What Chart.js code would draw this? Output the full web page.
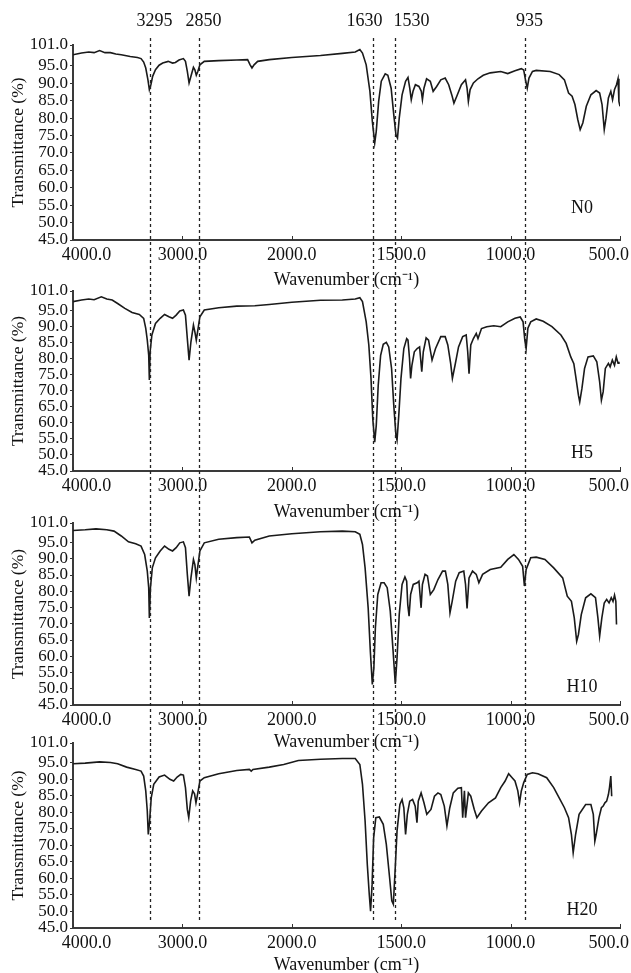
<!DOCTYPE html>
<html>
<head>
<meta charset="utf-8">
<script src="https://cdn.jsdelivr.net/npm/chart.js@4.4.1/dist/chart.umd.min.js"></script>
<style>
  html, body { margin: 0; padding: 0; background: #fff; overflow: hidden; }
  body { width: 631px; height: 973px; position: relative; }
  canvas { position: absolute; left: 0; }
</style>
</head>
<body>
<script>
// FTIR spectra (wavenumber in cm-1, transmittance in %)
const n0Wave = [4000,3922,3856,3807,3757,3708,3658,3609,3559,3477,3411,3378,3354,3335,3315,3302,3288,3272,3246,3213,3180,3130,3090,3064,3031,2991,2972,2955,2939,2922,2899,2886,2873,2859,2840,2800,2668,2503,2404,2381,2364,2345,2312,2206,2000,1869,1769,1710,1689,1677,1660,1643,1632,1621,1614,1603,1591,1573,1561,1546,1534,1524,1517,1509,1496,1480,1469,1461,1454,1446,1435,1419,1408,1403,1396,1384,1367,1354,1338,1319,1299,1283,1267,1259,1246,1225,1206,1199,1193,1185,1170,1149,1125,1093,1045,1013,980,951,940,932,924,916,900,883,819,778,754,735,719,706,693,682,670,654,633,609,593,582,572,564,553,542,534,525,516,509,505,500];
const n0T = [98.2,98.7,99.0,98.8,99.4,98.8,98.8,98.4,98.2,97.7,97.4,97.1,96.1,94.4,91.0,88.2,89.6,92.0,93.9,95.2,95.8,96.3,95.8,96.0,96.7,97.1,96.3,93.4,90.1,92.0,94.6,93.9,92.3,93.4,95.3,96.3,96.5,96.7,96.8,95.3,94.4,95.3,96.3,96.8,97.4,98.0,98.6,99.0,99.7,98.7,95.3,87.7,79.1,72.9,76.2,84.8,90.6,92.7,92.3,88.6,81.0,75.2,74.3,80.0,86.7,90.6,91.7,88.6,85.3,87.7,89.6,89.1,87.7,85.3,88.6,91.3,90.6,87.7,89.1,91.0,91.5,89.6,86.3,84.3,86.3,89.6,91.0,88.6,84.8,88.2,90.1,91.3,92.3,93.0,93.4,92.8,93.6,94.2,93.8,91.0,88.6,91.5,93.4,93.7,93.4,92.5,91.0,87.2,86.3,83.9,79.6,76.7,78.6,83.4,86.7,87.9,87.2,83.9,76.7,80.0,85.8,87.7,85.3,88.2,89.6,91.3,84.8,83.4];

const h5Wave = [4000,3922,3856,3807,3741,3691,3642,3592,3526,3460,3394,3354,3335,3321,3308,3302,3295,3279,3246,3203,3163,3123,3090,3057,3024,2991,2972,2955,2939,2922,2899,2886,2873,2859,2840,2800,2668,2503,2338,2206,2000,1869,1769,1710,1689,1677,1660,1648,1638,1630,1621,1614,1605,1594,1582,1568,1557,1544,1534,1524,1519,1511,1501,1488,1475,1469,1462,1457,1451,1440,1427,1416,1406,1399,1386,1375,1359,1343,1319,1299,1287,1274,1266,1254,1238,1219,1203,1196,1190,1182,1170,1157,1149,1133,1109,1077,1045,1013,980,956,943,935,929,921,908,883,851,811,770,746,725,711,701,690,684,674,662,646,622,606,593,585,577,567,553,545,535,525,517,509,505];
const h5T = [97.7,98.2,98.5,98.3,99.2,98.5,98.2,97.1,95.6,94.3,93.7,92.5,89.4,85.7,81.0,73.3,82.1,87.3,90.9,92.5,93.7,93.0,92.5,93.5,94.8,95.1,93.5,86.2,79.5,85.2,90.4,88.3,85.7,88.8,93.0,95.1,95.8,96.3,96.4,96.8,97.5,98.1,98.2,98.5,98.9,97.7,91.4,84.2,73.8,61.3,54.0,59.2,71.7,81.0,84.4,85.0,83.6,76.9,65.5,56.1,54.6,62.4,73.8,83.1,86.2,85.7,80.0,73.8,77.9,82.1,83.1,83.6,75.9,82.1,86.4,85.7,79.5,83.1,86.8,86.8,84.2,78.5,73.8,77.9,83.6,86.8,87.3,82.1,75.3,84.2,86.2,87.8,86.2,89.3,89.9,90.2,89.9,91.4,92.5,92.9,91.4,85.7,83.1,89.4,91.4,92.3,91.6,89.9,87.3,84.7,80.5,78.4,73.8,68.6,66.5,70.7,76.9,80.5,80.8,79.0,72.7,67.0,69.6,76.9,78.5,77.4,79.5,77.9,80.5,78.5,79.0];

const h10Wave = [4000,3889,3790,3691,3625,3559,3493,3427,3378,3345,3321,3308,3302,3292,3275,3246,3203,3163,3123,3090,3057,3024,2991,2972,2955,2939,2922,2899,2886,2873,2859,2840,2800,2668,2503,2388,2364,2338,2206,2000,1869,1769,1710,1689,1677,1665,1651,1641,1632,1625,1618,1607,1592,1578,1564,1550,1537,1527,1519,1509,1496,1483,1475,1470,1464,1457,1445,1427,1419,1409,1403,1391,1380,1367,1351,1332,1311,1298,1287,1277,1267,1251,1235,1214,1206,1199,1190,1174,1157,1145,1128,1093,1045,1013,985,964,945,937,929,908,883,843,803,762,741,722,709,698,690,677,657,633,612,601,593,583,572,561,550,540,532,525,519,516];
const h10T = [98.7,98.9,99.2,98.9,98.5,97.0,95.2,94.6,93.9,91.3,86.2,81.1,71.8,81.1,87.2,90.3,92.4,93.9,92.9,92.4,93.4,94.9,95.2,93.4,85.2,78.5,84.1,89.8,88.2,84.1,87.7,92.4,94.9,96.0,96.5,96.7,94.9,95.7,97.0,97.7,98.3,98.5,98.3,97.5,94.4,87.2,74.9,61.5,51.3,56.4,68.7,79.0,82.6,82.6,81.1,73.9,61.5,51.5,59.5,72.8,82.1,84.4,83.1,75.9,72.3,79.0,82.1,82.6,83.1,74.9,82.1,85.2,84.7,79.0,80.5,83.6,86.2,86.2,82.1,73.4,76.9,83.1,85.7,86.2,82.1,74.7,84.1,86.2,85.2,82.6,85.2,86.7,87.4,89.8,91.3,89.8,87.7,81.6,86.7,90.3,90.5,89.8,87.2,84.1,78.5,76.9,71.8,64.6,66.7,72.8,78.0,79.2,78.0,71.8,66.2,71.8,76.4,77.5,76.4,78.0,76.9,78.8,76.9,69.8];

const h20Wave = [4000,3889,3757,3658,3592,3510,3427,3378,3354,3335,3321,3312,3302,3285,3262,3213,3163,3114,3080,3048,3015,2991,2972,2955,2942,2925,2906,2889,2876,2859,2840,2800,2668,2503,2388,2371,2355,2206,2074,1970,1869,1769,1710,1689,1677,1665,1655,1646,1640,1633,1626,1616,1600,1582,1568,1553,1543,1536,1528,1519,1506,1496,1488,1480,1472,1461,1448,1436,1428,1422,1409,1396,1383,1364,1348,1332,1319,1303,1291,1278,1262,1241,1225,1219,1211,1206,1193,1182,1166,1154,1133,1101,1069,1045,1025,1009,993,980,967,959,951,940,924,900,875,835,803,778,754,735,722,714,703,687,657,633,622,615,609,596,585,577,569,561,553,548,542,538];
const h20T = [94.7,94.9,95.3,95.1,94.7,93.7,93.0,92.5,91.0,86.5,80.4,73.3,76.4,84.4,88.5,90.7,91.3,90.0,89.5,90.7,91.5,91.3,87.5,80.9,78.4,83.4,86.5,85.6,82.9,85.9,89.5,90.5,91.7,92.7,93.0,92.5,93.0,93.7,94.5,95.7,96.1,96.3,96.3,94.5,88.5,77.4,64.3,55.2,50.1,58.2,72.3,78.4,78.6,76.4,70.3,60.2,53.2,52.2,62.2,74.4,82.4,83.9,81.4,73.3,79.4,83.4,83.9,81.9,76.9,83.4,85.9,82.9,79.4,80.9,84.9,85.9,85.4,81.9,75.9,81.4,85.9,87.3,87.5,78.4,86.5,78.4,85.9,84.9,80.9,78.4,80.4,82.9,84.4,87.5,89.5,91.7,90.5,89.5,86.5,82.9,86.5,89.0,91.5,92.0,91.7,90.5,87.5,84.4,81.4,78.4,73.3,67.8,73.3,79.4,82.4,82.4,79.4,71.3,73.3,78.4,81.4,81.9,82.9,83.4,85.4,87.5,91.0,84.9];

const xTickLabels = [4000, 3000, 2000, 1500, 1000, 500];
const yTicks = [45, 50, 55, 60, 65, 70, 75, 80, 85, 90, 95, 101];
const markerWaves = [3295, 2850, 1630, 1530, 935];

const serif = "'Liberation Serif', 'Times New Roman', serif";
const ink = '#111';

// the axis is squeezed 2:1 above 2000 cm-1, as in the instrument plot
function toAxis(w) { return w <= 2000 ? w : 2000 + (w - 2000) / 2; }
function fromAxis(u) { return u <= 2000 ? u : 2000 + 2 * (u - 2000); }

const panels = [
  { name: 'N0',  wave: n0Wave,  t: n0T,  top: 0,   height: 291, padTop: 45, axisH: 51, dashTop: 38, dashBottom: 291, labelUp: 32, peaks: true },
  { name: 'H5',  wave: h5Wave,  t: h5T,  top: 278, height: 245, padTop: 13, axisH: 52, dashTop: 13, dashBottom: 245, labelUp: 18 },
  { name: 'H10', wave: h10Wave, t: h10T, top: 510, height: 243, padTop: 13, axisH: 48, dashTop: 13, dashBottom: 233, labelUp: 18 },
  { name: 'H20', wave: h20Wave, t: h20T, top: 730, height: 246, padTop: 13, axisH: 48, dashTop: 13, dashBottom: 193, labelUp: 18 },
];

const overlay = {
  id: 'overlay',
  afterDatasetsDraw(chart, args, opts) {
    const { ctx, chartArea: a, scales: { x } } = chart;
    ctx.save();
    // small inward ticks on the x axis
    ctx.strokeStyle = '#333';
    ctx.lineWidth = 1;
    xTickLabels.forEach(w => {
      const px = Math.round(x.getPixelForValue(toAxis(w))) + 0.5;
      ctx.beginPath();
      ctx.moveTo(px, a.bottom);
      ctx.lineTo(px, a.bottom - 4);
      ctx.stroke();
    });
    // dashed band markers running through every panel
    ctx.strokeStyle = '#222';
    ctx.lineWidth = 1.3;
    ctx.setLineDash([3, 3]);
    const xs = markerWaves.map(w => Math.round(x.getPixelForValue(toAxis(w))) + 0.5);
    xs.forEach(px => {
      ctx.beginPath();
      ctx.moveTo(px, opts.dashTop);
      ctx.lineTo(px, opts.dashBottom);
      ctx.stroke();
    });
    ctx.setLineDash([]);
    ctx.fillStyle = ink;
    ctx.textBaseline = 'middle';
    ctx.font = '18px ' + serif;
    ctx.textAlign = 'center';
    ctx.fillText(opts.name, a.right - 38, a.bottom - opts.labelUp);
    if (opts.peaks) {
      markerWaves.forEach((w, i) => {
        const px = xs[i];
        if (i < xs.length - 1 && xs[i + 1] - px < 40) {
          ctx.textAlign = 'right';
          ctx.fillText(String(w), px + 9, 21);
        } else if (i > 0 && px - xs[i - 1] < 40) {
          ctx.textAlign = 'left';
          ctx.fillText(String(w), px - 2, 21);
        } else {
          ctx.textAlign = 'center';
          ctx.fillText(String(w), px + 4, 21);
        }
      });
    }
    ctx.restore();
  }
};

panels.forEach(p => {
  const canvas = document.createElement('canvas');
  canvas.width = 631;
  canvas.height = p.height;
  canvas.style.top = p.top + 'px';
  document.body.appendChild(canvas);

  new Chart(canvas, {
    type: 'line',
    data: {
      datasets: [{
        label: p.name,
        data: p.wave.map((w, i) => ({ x: toAxis(w), y: p.t[i] })),
        borderColor: '#1a1a1a',
        borderWidth: 1.6,
        pointRadius: 0,
        tension: 0,
        fill: false
      }]
    },
    options: {
      responsive: false,
      animation: false,
      layout: { padding: { top: p.padTop, right: 11, left: 0, bottom: 0 } },
      plugins: {
        legend: { display: false },
        tooltip: { enabled: false },
        overlay: { name: p.name, dashTop: p.dashTop, dashBottom: p.dashBottom, labelUp: p.labelUp, peaks: !!p.peaks }
      },
      scales: {
        x: {
          type: 'linear',
          reverse: true,
          min: 500,
          max: 3000,
          afterBuildTicks: s => { s.ticks = xTickLabels.map(w => ({ value: toAxis(w) })); },
          afterFit: s => { s.height = p.axisH; s.paddingLeft = 0; s.paddingRight = 0; },
          grid: { display: false, drawTicks: false },
          border: { display: true, color: '#3a3a3a', width: 2 },
          ticks: {
            autoSkip: false,
            maxRotation: 0,
            padding: 4,
            color: ink,
            font: { family: serif, size: 18 },
            callback: v => {
              const w = Math.round(fromAxis(v));
              const s = w.toFixed(1);
              if (w === xTickLabels[0]) return '      ' + s;
              if (w === xTickLabels[xTickLabels.length - 1]) return s + '     ';
              return s;
            }
          },
          title: { display: true, text: 'Wavenumber (cm\u207B\u00B9)', color: ink, font: { family: serif, size: 18 }, padding: 0 }
        },
        y: {
          min: 45,
          max: 101,
          afterBuildTicks: s => { s.ticks = yTicks.map(v => ({ value: v })); },
          afterFit: s => { s.width = 73; },
          grid: { drawOnChartArea: false, tickLength: 3, color: '#333' },
          border: { display: true, color: '#3a3a3a', width: 2 },
          ticks: {
            autoSkip: false,
            padding: 2,
            color: ink,
            font: { family: serif, size: 17, lineHeight: 1 },
            callback: v => v.toFixed(1)
          },
          title: { display: true, text: 'Transmittance (%)', color: ink, font: { family: serif, size: 17.5 }, padding: { top: 8, bottom: 0 } }
        }
      }
    },
    plugins: [overlay]
  });
});
</script>
</body>
</html>
